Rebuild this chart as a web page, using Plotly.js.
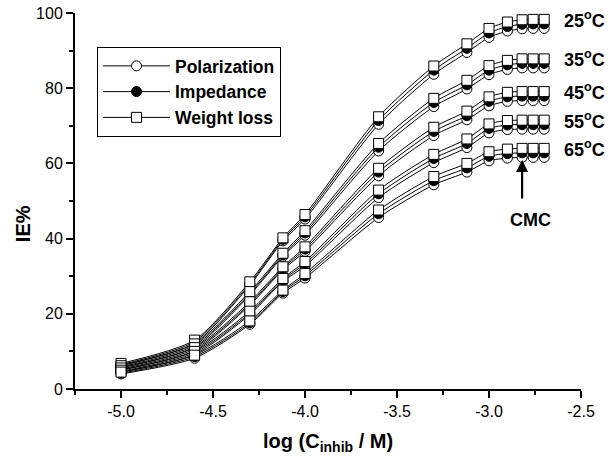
<!DOCTYPE html>
<html>
<head>
<meta charset="utf-8">
<script src="https://cdn.plot.ly/plotly-3.0.1.min.js"></script>
<style>html,body{margin:0;padding:0;background:#fff;}#chart{width:612px;height:463px;}</style>
</head>
<body>
<div id="chart"></div>
<script>
// log(C_inhib / M)
const logC = [-5.0, -4.6, -4.3, -4.12, -4.0, -3.6, -3.3, -3.12, -3.0, -2.9, -2.82, -2.76, -2.7];
const temps = ["25", "35", "45", "55", "65"];
const xTickVals = [-5.0, -4.5, -4.0, -3.5, -3.0, -2.5];
const xTickText = ["-5.0", "-4.5", "-4.0", "-3.5", "-3.0", "-2.5"];

// IE% - Polarization
const pol25 = [6.3, 12.2, 27.6, 39.4, 45.2, 70.4, 83.7, 89.5, 93.5, 95.2, 95.8, 95.9, 95.9];
const pol35 = [5.7, 11.2, 25.0, 35.3, 40.9, 63.3, 75.1, 79.8, 83.6, 85.0, 85.4, 85.4, 85.4];
const pol45 = [5.1, 10.2, 22.3, 31.7, 36.6, 56.7, 67.4, 71.6, 75.3, 76.5, 76.7, 76.7, 76.7];
const pol55 = [4.5, 9.2, 19.8, 28.6, 32.7, 50.9, 60.2, 64.2, 68.1, 69.0, 69.1, 69.1, 69.1];
const pol65 = [4.0, 8.2, 17.2, 25.5, 29.5, 45.6, 54.3, 57.7, 60.7, 61.4, 61.6, 61.6, 61.6];

// IE% - Impedance
const imp25 = [6.5, 12.6, 28.0, 39.8, 45.8, 71.4, 84.8, 90.6, 94.7, 96.4, 97.0, 97.1, 97.1];
const imp35 = [5.9, 11.6, 25.4, 35.7, 41.5, 64.3, 76.2, 80.9, 84.8, 86.2, 86.6, 86.6, 86.6];
const imp45 = [5.3, 10.6, 22.7, 32.1, 37.2, 57.7, 68.5, 72.7, 76.5, 77.7, 77.9, 77.9, 77.9];
const imp55 = [4.7, 9.6, 20.2, 29.0, 33.3, 51.9, 61.3, 65.3, 69.3, 70.2, 70.3, 70.3, 70.3];
const imp65 = [4.2, 8.6, 17.6, 25.9, 30.1, 46.6, 55.4, 58.8, 61.9, 62.6, 62.8, 62.8, 62.8];

// IE% - Weight loss
const wl25 = [6.8, 13.0, 28.5, 40.2, 46.4, 72.4, 85.9, 91.8, 95.9, 97.6, 98.2, 98.3, 98.3];
const wl35 = [6.2, 12.0, 25.9, 36.1, 42.1, 65.3, 77.3, 82.1, 86.0, 87.4, 87.8, 87.8, 87.8];
const wl45 = [5.6, 11.0, 23.2, 32.5, 37.8, 58.7, 69.6, 73.9, 77.7, 78.9, 79.1, 79.1, 79.1];
const wl55 = [5.0, 10.0, 20.7, 29.4, 33.9, 52.9, 62.4, 66.5, 70.5, 71.4, 71.5, 71.5, 71.5];
const wl65 = [4.5, 9.0, 18.1, 26.3, 30.7, 47.6, 56.5, 60.0, 63.1, 63.8, 64.0, 64.0, 64.0];

const methods = [
  {name: "Polarization", sets: [pol25, pol35, pol45, pol55, pol65], symbol: "circle", fill: "#ffffff"},
  {name: "Impedance", sets: [imp25, imp35, imp45, imp55, imp65], symbol: "circle", fill: "#000000"},
  {name: "Weight loss", sets: [wl25, wl35, wl45, wl55, wl65], symbol: "square", fill: "#ffffff"}
];

const cmcLog = -2.82;
const FONT = "Arial, 'Liberation Sans', sans-serif";

const traces = [];
methods.forEach(m => {
  m.sets.forEach((ys, i) => {
    traces.push({
      x: logC, y: ys, type: "scatter", mode: "lines+markers",
      name: m.name, legendgroup: m.name, showlegend: i === 0,
      line: {color: "#000", width: 1, shape: "spline", smoothing: 0.7},
      marker: {symbol: m.symbol, size: 10, color: m.fill, line: {color: "#000", width: 1}},
      cliponaxis: false
    });
  });
});

const annotations = [];
temps.forEach((t, i) => {
  const ys = methods[2].sets[i];
  annotations.push({
    x: -2.605, y: ys[ys.length - 1], xref: "x", yref: "y", xanchor: "left", yanchor: "middle",
    text: "<b>" + t + "<sup>o</sup>C</b>", showarrow: false,
    font: {family: FONT, size: 18, color: "#000"}
  });
});
annotations.push({
  x: cmcLog, y: 60.9, xref: "x", yref: "y", ax: 0, ay: 40, text: "",
  showarrow: true, arrowhead: 2, arrowsize: 1.1, arrowwidth: 2.2, arrowcolor: "#000"
});
annotations.push({
  x: -2.777, y: 44.9, xref: "x", yref: "y", text: "<b>CMC</b>", showarrow: false,
  xanchor: "center", yanchor: "middle", font: {family: FONT, size: 18, color: "#000"}
});
annotations.push({
  x: 0.5, y: -0.1436, xref: "paper", yref: "paper", xanchor: "center", yanchor: "middle",
  text: "<b>log (C<sub>inhib</sub> / M)</b>", showarrow: false,
  font: {family: FONT, size: 20, color: "#000"}
});
annotations.push({
  x: -0.1028, y: 0.441, xref: "paper", yref: "paper", xanchor: "center", yanchor: "middle",
  text: "<b>IE%</b>", textangle: -90, showarrow: false,
  font: {family: FONT, size: 20, color: "#000"}
});

const layout = {
  width: 612, height: 463,
  margin: {l: 75, r: 31, t: 13, b: 74},
  paper_bgcolor: "#fff", plot_bgcolor: "#fff",
  font: {family: FONT, color: "#000"},
  showlegend: true,
  legend: {
    x: 0.0435, y: 0.9096, xanchor: "left", yanchor: "top",
    bordercolor: "#000", borderwidth: 1, bgcolor: "#fff",
    font: {family: FONT, size: 17.5, color: "#000", weight: "bold"},
    itemwidth: 67, tracegroupgap: 0
  },
  xaxis: {
    range: [-5.25, -2.5], showgrid: false, zeroline: false,
    showline: true, linewidth: 2, linecolor: "#000",
    ticks: "outside", ticklen: 7, tickwidth: 2, tickcolor: "#000",
    tickmode: "array", tickvals: xTickVals, ticktext: xTickText,
    tickfont: {family: FONT, size: 16, color: "#000"},
    minor: {tickmode: "linear", tick0: -5.25, dtick: 0.25, ticks: "outside", ticklen: 4, tickwidth: 2, tickcolor: "#000", showgrid: false}
  },
  yaxis: {
    range: [0, 100], showgrid: false, zeroline: false,
    showline: true, linewidth: 2, linecolor: "#000",
    ticks: "outside", ticklen: 7, tickwidth: 2, tickcolor: "#000",
    dtick: 20, tick0: 0,
    tickfont: {family: FONT, size: 16, color: "#000"},
    minor: {dtick: 10, ticks: "outside", ticklen: 4, tickwidth: 2, tickcolor: "#000", showgrid: false}
  },
  annotations: annotations
};

Plotly.newPlot("chart", traces, layout, {displayModeBar: false, staticPlot: true});
</script>
</body>
</html>
